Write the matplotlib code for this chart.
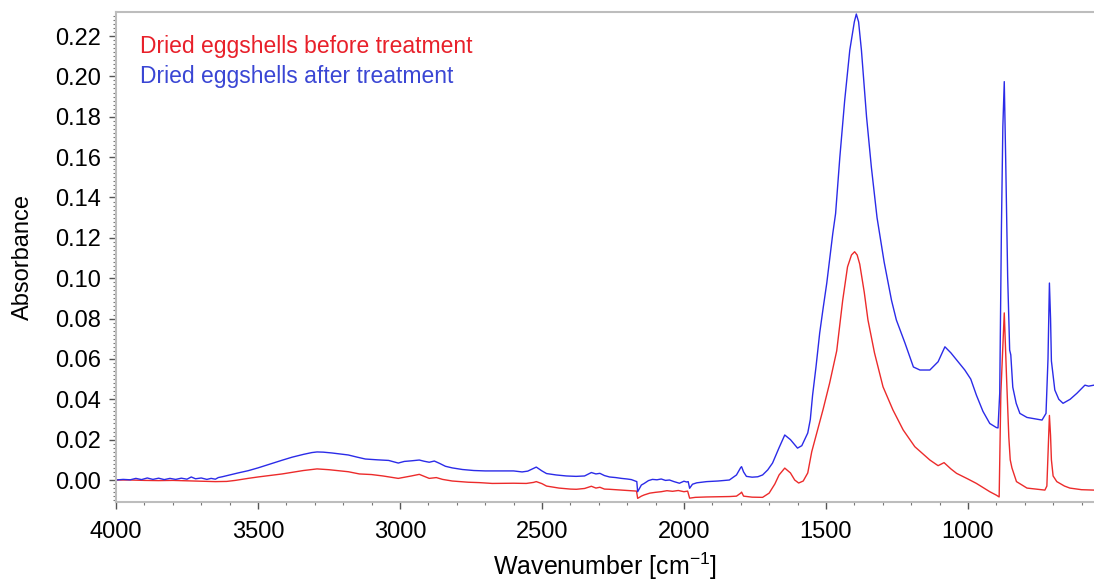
import numpy as np
import matplotlib
matplotlib.use("Agg")
import matplotlib.pyplot as plt
from matplotlib.ticker import MultipleLocator, FormatStrFormatter

plt.rcParams['font.family'] = ['Liberation Sans', 'DejaVu Sans']
plt.rcParams['mathtext.fontset'] = 'custom'
plt.rcParams['mathtext.rm'] = 'Liberation Sans'
plt.rcParams['mathtext.it'] = 'Liberation Sans:italic'

# FTIR spectra, wavenumber [cm-1] -> absorbance
wn_after = [4000, 3975, 3950, 3930, 3910, 3890, 3870, 3850, 3830, 3810, 3790, 3770,
            3750, 3735, 3720, 3700, 3680, 3665, 3650, 3640, 3626, 3600, 3570, 3535,
            3500, 3460, 3415, 3380, 3340, 3310, 3292, 3270, 3240, 3210, 3182, 3150,
            3122, 3080, 3040, 3006, 2985, 2960, 2932, 2915, 2897, 2879, 2860, 2840,
            2816, 2780, 2740, 2700, 2650, 2600, 2570, 2550, 2520, 2500, 2484, 2450,
            2414, 2380, 2350, 2326, 2310, 2296, 2280, 2262, 2240, 2220, 2200, 2185,
            2170, 2166, 2163, 2150, 2140, 2125, 2111, 2095, 2080, 2065, 2051, 2035,
            2016, 2000, 1990, 1985, 1980, 1970, 1955, 1920, 1880, 1840, 1815, 1800,
            1797, 1790, 1780, 1760, 1740, 1723, 1705, 1688, 1665, 1645, 1625, 1600,
            1585, 1564, 1555, 1547, 1535, 1522, 1510, 1497, 1476, 1466, 1451, 1434,
            1416, 1400, 1393, 1385, 1375, 1357, 1340, 1320, 1295, 1269, 1252, 1222,
            1192, 1169, 1134, 1105, 1081, 1060, 1040, 1011, 990, 970, 947, 923,
            900, 894, 888, 882, 877, 872, 867, 860, 853, 849, 842, 830,
            817, 792, 739, 725, 718, 713, 709, 706, 694, 680, 665, 640,
            616, 588, 575, 556]
abs_after = [0.0000, 0.0003, 0.0001, 0.0008, 0.0002, 0.0010, 0.0003, 0.0009, 0.0002, 0.0008, 0.0003, 0.0009,
             0.0004, 0.0015, 0.0006, 0.0010, 0.0003, 0.0008, 0.0004, 0.0012, 0.0016, 0.0025, 0.0035, 0.0046,
             0.0060, 0.0078, 0.0098, 0.0113, 0.0127, 0.0136, 0.0139, 0.0138, 0.0134, 0.0129, 0.0124, 0.0113,
             0.0104, 0.0100, 0.0097, 0.0084, 0.0092, 0.0095, 0.0099, 0.0093, 0.0088, 0.0094, 0.0082, 0.0068,
             0.0060, 0.0052, 0.0047, 0.0045, 0.0045, 0.0045, 0.0040, 0.0044, 0.0064, 0.0045, 0.0032, 0.0025,
             0.0020, 0.0018, 0.0020, 0.0037, 0.0030, 0.0033, 0.0022, 0.0015, 0.0012, 0.0008, 0.0005, 0.0002,
             -0.0006, -0.0008, -0.0058, -0.0025, -0.0017, -0.0003, 0.0003, 0.0001, 0.0005, -0.0002, 0.0000, -0.0008,
             -0.0016, -0.0006, -0.0010, -0.0008, -0.0041, -0.0021, -0.0014, -0.0008, -0.0005, 0.0000, 0.0025, 0.0062,
             0.0066, 0.0040, 0.0018, 0.0014, 0.0016, 0.0025, 0.0050, 0.0084, 0.0160, 0.0223, 0.0200, 0.0158,
             0.0170, 0.0233, 0.0300, 0.0420, 0.0560, 0.0728, 0.0850, 0.0976, 0.1220, 0.1320, 0.1600, 0.1880,
             0.2130, 0.2270, 0.2309, 0.2270, 0.2130, 0.1800, 0.1550, 0.1300, 0.1080, 0.0890, 0.0793, 0.0680,
             0.0560, 0.0545, 0.0545, 0.0586, 0.0660, 0.0630, 0.0595, 0.0545, 0.0500, 0.0420, 0.0340, 0.0280,
             0.0260, 0.0258, 0.0430, 0.1250, 0.1750, 0.1974, 0.1590, 0.1006, 0.0644, 0.0620, 0.0460, 0.0380,
             0.0330, 0.0310, 0.0297, 0.0330, 0.0600, 0.0976, 0.0800, 0.0590, 0.0446, 0.0400, 0.0380, 0.0400,
             0.0430, 0.0470, 0.0465, 0.0470]

wn_before = [4000, 3950, 3900, 3850, 3800, 3750, 3700, 3650, 3610, 3580, 3535, 3500,
             3460, 3415, 3380, 3340, 3292, 3250, 3182, 3143, 3100, 3060, 3006, 2960,
             2932, 2915, 2897, 2872, 2850, 2816, 2760, 2720, 2675, 2600, 2555, 2530,
             2520, 2500, 2484, 2440, 2400, 2379, 2350, 2326, 2310, 2296, 2280, 2262,
             2230, 2200, 2167, 2163, 2150, 2140, 2120, 2100, 2080, 2060, 2040, 2020,
             2000, 1987, 1980, 1960, 1920, 1880, 1840, 1815, 1800, 1797, 1790, 1760,
             1723, 1700, 1680, 1665, 1645, 1625, 1610, 1596, 1580, 1564, 1550, 1533,
             1510, 1487, 1462, 1441, 1424, 1410, 1399, 1390, 1381, 1365, 1352, 1329,
             1299, 1264, 1228, 1187, 1134, 1105, 1084, 1060, 1040, 1000, 970, 923,
             900, 890, 884, 872, 864, 856, 851, 845, 829, 792, 729, 722,
             713, 709, 706, 700, 687, 660, 641, 600, 556]
abs_before = [0.0000, 0.0000, -0.0002, -0.0003, -0.0002, -0.0004, -0.0006, -0.0008, -0.0007, -0.0002, 0.0008, 0.0015,
              0.0022, 0.0030, 0.0038, 0.0047, 0.0055, 0.0051, 0.0041, 0.0030, 0.0027, 0.0020, 0.0008, 0.0020,
              0.0028, 0.0018, 0.0008, 0.0012, 0.0003, -0.0005, -0.0011, -0.0013, -0.0017, -0.0016, -0.0017, -0.0012,
              -0.0008, -0.0018, -0.0030, -0.0040, -0.0045, -0.0046, -0.0042, -0.0031, -0.0040, -0.0036, -0.0045, -0.0046,
              -0.0049, -0.0052, -0.0055, -0.0091, -0.0080, -0.0074, -0.0065, -0.0061, -0.0058, -0.0053, -0.0056, -0.0052,
              -0.0058, -0.0055, -0.0090, -0.0086, -0.0084, -0.0083, -0.0082, -0.0080, -0.0065, -0.0060, -0.0080, -0.0085,
              -0.0086, -0.0065, -0.0020, 0.0025, 0.0059, 0.0035, 0.0000, -0.0015, -0.0005, 0.0035, 0.0140, 0.0230,
              0.0350, 0.0480, 0.0640, 0.0890, 0.1056, 0.1115, 0.1131, 0.1115, 0.1070, 0.0930, 0.0793, 0.0630,
              0.0462, 0.0347, 0.0248, 0.0165, 0.0099, 0.0071, 0.0086, 0.0055, 0.0033, 0.0005, -0.0017, -0.0058,
              -0.0075, -0.0084, 0.0430, 0.0828, 0.0510, 0.0213, 0.0100, 0.0060, -0.0008, -0.0040, -0.0050, -0.0030,
              0.0320, 0.0220, 0.0100, 0.0020, -0.0008, -0.0030, -0.0040, -0.0048, -0.0050]

fig = plt.figure(figsize=(10.94, 5.85), dpi=100)
ax = fig.add_axes([116 / 1094, 83 / 585, 978 / 1094, 490 / 585])

ax.plot(wn_before, abs_before, color='#ec2b2b', lw=1.0)
ax.plot(wn_after, abs_after, color='#2b2be8', lw=1.0)

ax.set_xlim(4000, 556)
ax.set_ylim(-0.0109, 0.2319)

ax.xaxis.set_major_locator(MultipleLocator(500))
ax.xaxis.set_minor_locator(MultipleLocator(100))
ax.yaxis.set_major_locator(MultipleLocator(0.02))
ax.yaxis.set_minor_locator(MultipleLocator(0.002))
ax.yaxis.set_major_formatter(FormatStrFormatter('%.2f'))

for side in ['left', 'bottom', 'top']:
    ax.spines[side].set_color('#bdbdbd')
    ax.spines[side].set_linewidth(1.5)
ax.spines['right'].set_visible(False)

ax.tick_params(which='major', direction='out', length=5, width=1, color='#555555',
               labelsize=17, pad=6)
ax.tick_params(which='minor', direction='out', length=2.5, width=0.8, color='#777777')
ax.tick_params(axis='x', which='major', pad=9)

ax.set_xlabel('Wavenumber [cm$^{-1}$]', fontsize=18, labelpad=5)
ax.set_ylabel('Absorbance', fontsize=17, labelpad=15)

fig.text(140 / 1094, 1 - 47 / 585, 'Dried eggshells before treatment',
         color='#e8202a', fontsize=16.5, va='center')
fig.text(140 / 1094, 1 - 77 / 585, 'Dried eggshells after treatment',
         color='#3a46d4', fontsize=16.5, va='center')

fig.savefig('out.png', dpi=100)
